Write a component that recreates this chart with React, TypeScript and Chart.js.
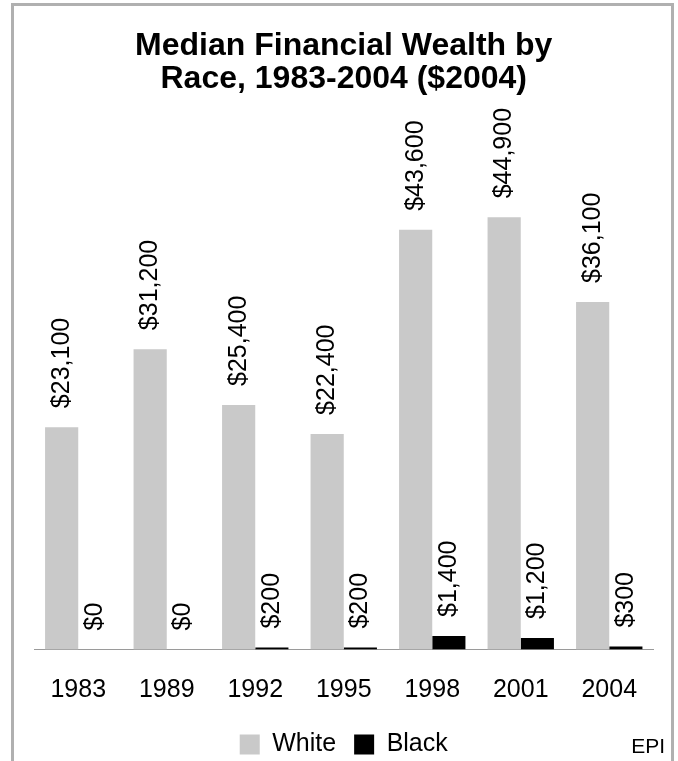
import React, { useEffect, useRef } from "react";
import { Chart, registerables } from "chart.js";

Chart.register(...registerables);

// Survey years on the category axis
const categories = ["1983", "1989", "1992", "1995", "1998", "2001", "2004"];
// Median financial wealth, constant 2004 dollars
const whiteValues = [23100, 31200, 25400, 22400, 43600, 44900, 36100];
const blackValues = [0, 0, 200, 200, 1400, 1200, 300];
const seriesNames = ["White", "Black"];
const titleLines = ["Median Financial Wealth by", "Race, 1983-2004 ($2004)"];
const sourceNote = "EPI";

const FONT = "'Liberation Sans', Arial, Helvetica, sans-serif";
const WIDTH = 678;
const HEIGHT = 761;
const LEGEND_HEIGHT = 47;
const X_AXIS_HEIGHT = 64.5;

const formatDollars = (v: number) => "$" + v.toLocaleString("en-US");

// Fixed legend band height at the foot of the chart
const legendHeightPlugin = {
  id: "legendHeight",
  beforeInit(chart: any) {
    const legend = chart.legend;
    if (!legend) return;
    const originalFit = legend.fit;
    legend.fit = function fit() {
      originalFit.call(this);
      this.height = LEGEND_HEIGHT;
    };
  },
};

// Rotated value labels above each bar, plus the frame and source note
const decorPlugin = {
  id: "decor",
  afterDatasetsDraw(chart: any) {
    const ctx = chart.ctx as CanvasRenderingContext2D;
    ctx.save();
    ctx.font = `25px ${FONT}`;
    ctx.fillStyle = "#000";
    ctx.textAlign = "left";
    ctx.textBaseline = "middle";
    chart.data.datasets.forEach((ds: any, di: number) => {
      const meta = chart.getDatasetMeta(di);
      meta.data.forEach((bar: any, i: number) => {
        const v = ds.data[i] as number;
        ctx.save();
        ctx.translate(bar.x, bar.y - 19);
        ctx.rotate(-Math.PI / 2);
        ctx.fillText(formatDollars(v), 0, 0);
        ctx.restore();
      });
    });
    ctx.restore();
  },
  afterDraw(chart: any) {
    const ctx = chart.ctx as CanvasRenderingContext2D;
    ctx.save();
    // outer frame, open at the bottom edge of the canvas
    ctx.strokeStyle = "#b0b0b0";
    ctx.lineWidth = 3;
    ctx.beginPath();
    ctx.moveTo(12.5, HEIGHT + 5);
    ctx.lineTo(12.5, 4.5);
    ctx.lineTo(672.5, 4.5);
    ctx.lineTo(672.5, HEIGHT + 5);
    ctx.stroke();
    // source note
    ctx.font = `21px ${FONT}`;
    ctx.fillStyle = "#000";
    ctx.textAlign = "right";
    ctx.textBaseline = "alphabetic";
    ctx.fillText(sourceNote, 665, 753);
    ctx.restore();
  },
};

export default function App() {
  const canvasRef = useRef<HTMLCanvasElement | null>(null);

  useEffect(() => {
    document.body.style.margin = "0";
    const canvas = canvasRef.current;
    if (!canvas) return;
    const chart = new Chart(canvas, {
      type: "bar",
      data: {
        labels: categories,
        datasets: [
          {
            label: seriesNames[0],
            data: whiteValues,
            backgroundColor: "#c9c9c9",
            borderWidth: 0,
            categoryPercentage: 0.75,
            barPercentage: 1,
          },
          {
            label: seriesNames[1],
            data: blackValues,
            backgroundColor: "#000000",
            borderWidth: 0,
            categoryPercentage: 0.75,
            barPercentage: 1,
          },
        ],
      },
      options: {
        responsive: false,
        animation: false,
        devicePixelRatio: 1,
        layout: { padding: { left: 34, right: 24.5, top: 0, bottom: 0 } },
        scales: {
          x: {
            grid: { display: false, drawTicks: false },
            border: { display: true, color: "#9a9a9a", width: 1 },
            ticks: {
              color: "#000",
              font: { family: FONT, size: 25 },
              padding: 26,
              maxRotation: 0,
            },
            afterFit: (scale: any) => {
              scale.height = X_AXIS_HEIGHT;
            },
          },
          y: { display: false, min: 0, max: 50000 },
        },
        plugins: {
          title: {
            display: true,
            text: titleLines,
            color: "#000",
            font: { family: FONT, size: 32, weight: "bold", lineHeight: 1.05 },
            padding: { top: 29, bottom: 72 },
          },
          legend: {
            position: "bottom",
            labels: {
              boxWidth: 20,
              boxHeight: 20,
              padding: 18,
              color: "#000",
              font: { family: FONT, size: 25 },
            },
          },
          tooltip: { enabled: false },
        },
      },
      plugins: [legendHeightPlugin, decorPlugin],
    });
    return () => chart.destroy();
  }, []);

  return (
    <div style={{ position: "absolute", left: 0, top: 0, width: WIDTH, height: HEIGHT, background: "#fff" }}>
      <canvas ref={canvasRef} width={WIDTH} height={HEIGHT} style={{ display: "block" }} />
    </div>
  );
}
